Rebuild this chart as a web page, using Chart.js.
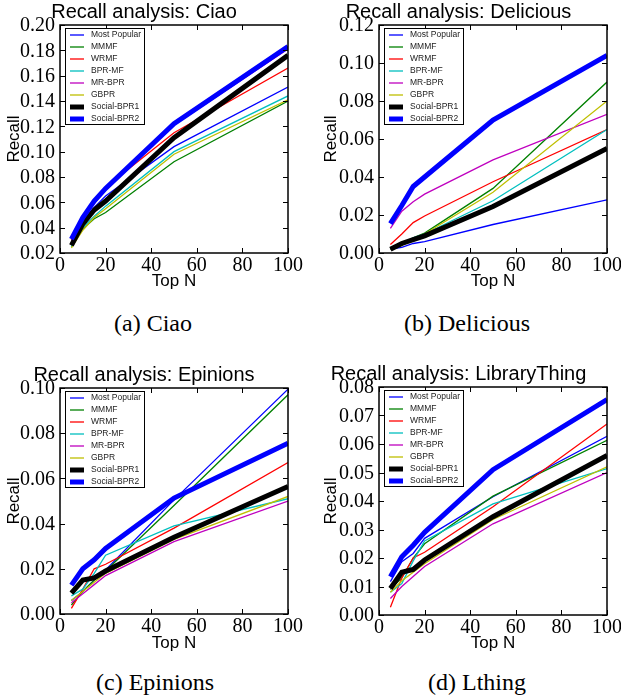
<!DOCTYPE html>
<html>
<head>
<meta charset="utf-8">
<script src="https://cdn.jsdelivr.net/npm/chart.js@4.4.0/dist/chart.umd.min.js"></script>
<style>
  body { margin: 0; background: #fff; width: 621px; height: 698px; position: relative; overflow: hidden; }
  canvas { position: absolute; }
  .cap { position: absolute; font-family: "Liberation Serif", serif; font-size: 24px; line-height: 28px; text-align: center; color: #000; }
</style>
</head>
<body>
<canvas id="ciaoChart" width="310" height="300" style="left:0;top:0"></canvas>
<canvas id="deliciousChart" width="311" height="300" style="left:310px;top:0"></canvas>
<canvas id="epinionsChart" width="310" height="300" style="left:0;top:360px"></canvas>
<canvas id="lthingChart" width="311" height="300" style="left:310px;top:360px"></canvas>
<div class="cap" style="left:0;width:306px;top:309px">(a) Ciao</div>
<div class="cap" style="left:310px;width:314px;top:309px">(b) Delicious</div>
<div class="cap" style="left:0;width:310px;top:668px">(c) Epinions</div>
<div class="cap" style="left:310px;width:334px;top:668px">(d) Lthing</div>
<script>
// Datos: Top N en el eje x, una fila por método (mismo orden que methods)
const topN = [5, 10, 15, 20, 50, 100];
const methods = ['Most Popular', 'MMMF', 'WRMF', 'BPR-MF', 'MR-BPR', 'GBPR', 'Social-BPR1', 'Social-BPR2'];
const xTicks = [0, 20, 40, 60, 80, 100];

const ciaoRecall = [
    [0.027, 0.044, 0.056, 0.065, 0.104, 0.151],
    [0.025, 0.039, 0.047, 0.052, 0.092, 0.140],
    [0.030, 0.049, 0.061, 0.072, 0.115, 0.166],
    [0.025, 0.040, 0.049, 0.057, 0.100, 0.144],
    [0.030, 0.047, 0.059, 0.070, 0.121, 0.181],
    [0.024, 0.038, 0.048, 0.055, 0.098, 0.141],
    [0.026, 0.043, 0.054, 0.061, 0.111, 0.176],
    [0.031, 0.048, 0.061, 0.071, 0.122, 0.183]
];
const ciaoTicks = [0.02, 0.04, 0.06, 0.08, 0.10, 0.12, 0.14, 0.16, 0.18, 0.20];

const deliciousRecall = [
    [0.002, 0.003, 0.005, 0.006, 0.015, 0.028],
    [0.002, 0.005, 0.008, 0.0105, 0.034, 0.090],
    [0.0045, 0.010, 0.016, 0.0195, 0.0375, 0.065],
    [0.002, 0.005, 0.008, 0.010, 0.0275, 0.065],
    [0.013, 0.022, 0.027, 0.031, 0.049, 0.073],
    [0.002, 0.004, 0.007, 0.010, 0.032, 0.080],
    [0.002, 0.005, 0.007, 0.009, 0.0245, 0.055],
    [0.0155, 0.025, 0.035, 0.040, 0.070, 0.104]
];
const deliciousTicks = [0.00, 0.02, 0.04, 0.06, 0.08, 0.10, 0.12];

const epinionsRecall = [
    [0.006, 0.010, 0.015, 0.0195, 0.0505, 0.0995],
    [0.004, 0.010, 0.015, 0.019, 0.048, 0.097],
    [0.0025, 0.011, 0.020, 0.022, 0.038, 0.067],
    [0.008, 0.011, 0.018, 0.026, 0.039, 0.051],
    [0.005, 0.009, 0.013, 0.017, 0.032, 0.050],
    [0.006, 0.010, 0.014, 0.018, 0.033, 0.052],
    [0.0092, 0.015, 0.016, 0.019, 0.034, 0.0564],
    [0.0128, 0.020, 0.024, 0.029, 0.0513, 0.0756]
];
const epinionsTicks = [0.00, 0.02, 0.04, 0.06, 0.08, 0.10];

const lthingRecall = [
    [0.0117, 0.0187, 0.0216, 0.0269, 0.0415, 0.0627],
    [0.009, 0.013, 0.020, 0.025, 0.0417, 0.0613],
    [0.0027, 0.013, 0.020, 0.022, 0.038, 0.067],
    [0.008, 0.011, 0.019, 0.026, 0.039, 0.0514],
    [0.0058, 0.010, 0.0135, 0.017, 0.032, 0.050],
    [0.008, 0.012, 0.015, 0.018, 0.0335, 0.052],
    [0.0093, 0.015, 0.016, 0.0193, 0.0345, 0.056],
    [0.0134, 0.0204, 0.0245, 0.029, 0.051, 0.0756]
];
const lthingTicks = [0.00, 0.01, 0.02, 0.03, 0.04, 0.05, 0.06, 0.07, 0.08];

// Estilos tipo matplotlib clásico
const lineColors = ['#0000ff', '#008000', '#ff0000', '#00bfbf', '#bf00bf', '#bfbf00', '#000000', '#0000ff'];
const lineWidths = [1.3, 1.3, 1.3, 1.3, 1.3, 1.3, 5, 5];

const sansFont = '"Liberation Sans", Arial, sans-serif';
const tickFont = '20px "Liberation Serif", "Times New Roman", serif';

function formatX(v) { return String(v); }
function formatY(v) { return Number(v).toFixed(2); }

// Marco, ticks hacia dentro, etiquetas serif y leyenda dentro del área
const framePlugin = {
    id: 'frame',
    afterDatasetsDraw(chart) {
        const ctx = chart.ctx;
        const ca = chart.chartArea;
        const xs = chart.scales.x;
        const ys = chart.scales.y;
        ctx.save();
        ctx.strokeStyle = '#000';
        ctx.lineWidth = 1;
        ctx.beginPath();
        xs.ticks.forEach(function(t) {
            const px = Math.round(xs.getPixelForValue(t.value)) + 0.5;
            ctx.moveTo(px, ca.bottom); ctx.lineTo(px, ca.bottom - 5);
            ctx.moveTo(px, ca.top); ctx.lineTo(px, ca.top + 5);
        });
        ys.ticks.forEach(function(t) {
            const py = Math.round(ys.getPixelForValue(t.value)) + 0.5;
            ctx.moveTo(ca.left, py); ctx.lineTo(ca.left + 5, py);
            ctx.moveTo(ca.right, py); ctx.lineTo(ca.right - 5, py);
        });
        ctx.stroke();
        ctx.lineWidth = 1.5;
        ctx.strokeRect(ca.left, ca.top, ca.right - ca.left, ca.bottom - ca.top);

        // etiquetas de los ticks (fuente serif)
        ctx.fillStyle = '#000';
        ctx.font = tickFont;
        ctx.textBaseline = 'middle';
        ctx.textAlign = 'center';
        xs.ticks.forEach(function(t) {
            ctx.fillText(formatX(t.value), xs.getPixelForValue(t.value), ca.bottom + 13);
        });
        ctx.textAlign = 'right';
        ys.ticks.forEach(function(t) {
            ctx.fillText(formatY(t.value), ca.left - 5, ys.getPixelForValue(t.value) + 1);
        });

        // leyenda
        const bx = ca.left + 5, by = ca.top + 3, bw = 79, bh = 96;
        ctx.fillStyle = '#fff';
        ctx.fillRect(bx, by, bw, bh);
        ctx.strokeStyle = '#000';
        ctx.lineWidth = 1;
        ctx.strokeRect(bx + 0.5, by + 0.5, bw, bh);
        ctx.font = '8.5px ' + sansFont;
        ctx.textBaseline = 'middle';
        ctx.textAlign = 'left';
        chart.data.datasets.forEach(function(ds, i) {
            const ry = by + 7 + i * 12;
            ctx.strokeStyle = ds.borderColor;
            ctx.lineWidth = ds.borderWidth;
            ctx.beginPath();
            ctx.moveTo(bx + 5, ry);
            ctx.lineTo(bx + 19, ry);
            ctx.stroke();
            ctx.fillStyle = '#222';
            ctx.fillText(ds.label, bx + 26, ry);
        });
        ctx.restore();
    }
};

function makeChart(id, title, recall, yTicks, box) {
    const canvas = document.getElementById(id);
    const H = canvas.height;
    const W = canvas.width;
    const datasets = methods.map(function(name, i) {
        return {
            label: name,
            data: topN.map(function(n, j) { return { x: n, y: recall[i][j] }; }),
            borderColor: lineColors[i],
            borderWidth: lineWidths[i],
            pointRadius: 0,
            tension: 0,
            fill: false,
            order: methods.length - i
        };
    });

    return new Chart(canvas.getContext('2d'), {
        type: 'line',
        data: { datasets: datasets },
        options: {
            responsive: false,
            animation: false,
            events: [],
            layout: { padding: { left: 0, top: 0, right: W - box.right, bottom: 0 } },
            plugins: {
                legend: { display: false },
                tooltip: { enabled: false },
                title: {
                    display: true,
                    text: title,
                    color: '#000',
                    font: { family: sansFont, size: 20, weight: 'normal', lineHeight: 1.2 },
                    padding: { top: box.top - 25, bottom: 1 }
                }
            },
            scales: {
                x: {
                    type: 'linear',
                    min: 0,
                    max: 100,
                    afterBuildTicks: function(scale) {
                        scale.ticks = xTicks.map(function(v) { return { value: v }; });
                    },
                    afterFit: function(scale) {
                        scale.height = H - box.bottom;
                        scale.paddingLeft = 0;
                        scale.paddingRight = 0;
                    },
                    grid: { display: false, drawTicks: false },
                    border: { display: false },
                    ticks: { display: false },
                    title: {
                        display: true,
                        text: 'Top N',
                        color: '#000',
                        font: { family: sansFont, size: 17 },
                        padding: { top: 0, bottom: box.xTitlePad }
                    }
                },
                y: {
                    min: yTicks[0],
                    max: yTicks[yTicks.length - 1],
                    afterBuildTicks: function(scale) {
                        scale.ticks = yTicks.map(function(v) { return { value: v }; });
                    },
                    afterFit: function(scale) {
                        scale.width = box.left;
                        scale.paddingTop = 0;
                        scale.paddingBottom = 0;
                    },
                    grid: { display: false, drawTicks: false },
                    border: { display: false },
                    ticks: { display: false },
                    title: {
                        display: true,
                        text: 'Recall',
                        color: '#000',
                        font: { family: sansFont, size: 17 },
                        padding: { top: box.yTitlePad, bottom: 0 }
                    }
                }
            }
        },
        plugins: [framePlugin]
    });
}

document.addEventListener('DOMContentLoaded', function() {
    makeChart('ciaoChart', 'Recall analysis: Ciao', ciaoRecall, ciaoTicks,
        { left: 60, right: 288, top: 25, bottom: 253, xTitlePad: 8, yTitlePad: 4 });
    makeChart('deliciousChart', 'Recall analysis: Delicious', deliciousRecall, deliciousTicks,
        { left: 69, right: 297, top: 25, bottom: 253, xTitlePad: 8, yTitlePad: 11 });
    makeChart('epinionsChart', 'Recall analysis: Epinions', epinionsRecall, epinionsTicks,
        { left: 60, right: 288, top: 28, bottom: 254, xTitlePad: 6, yTitlePad: 4 });
    makeChart('lthingChart', 'Recall analysis: LibraryThing', lthingRecall, lthingTicks,
        { left: 69, right: 297, top: 27, bottom: 255, xTitlePad: 6, yTitlePad: 11 });
});
</script>
</body>
</html>
